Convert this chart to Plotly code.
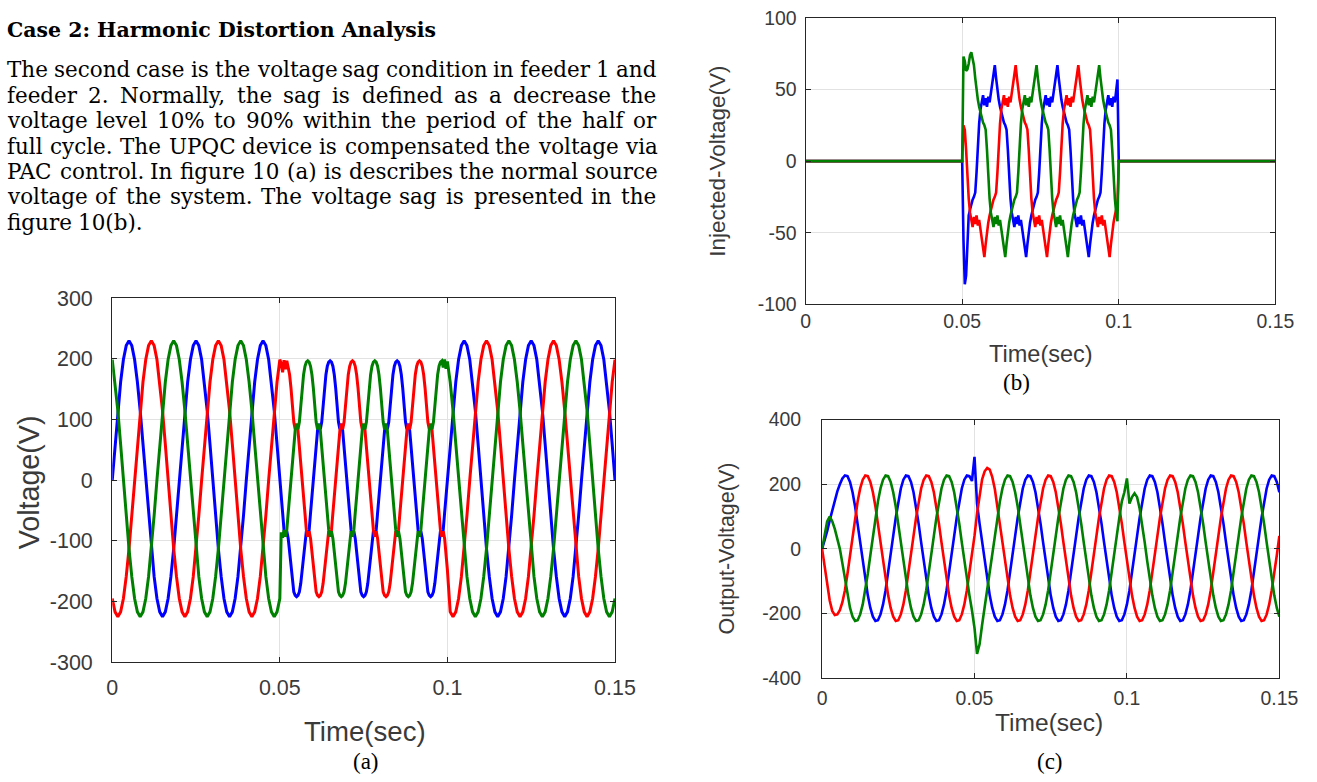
import numpy as np
import plotly.graph_objects as go

W, H = 1317, 782

# ---------------- data ----------------
x_tickvals = [0, 0.05, 0.1, 0.15]
x_ticktext = ["0", "0.05", "0.1", "0.15"]
ya_tickvals = [-300, -200, -100, 0, 100, 200, 300]
ya_ticktext = ["-300", "-200", "-100", "0", "100", "200", "300"]
yb_tickvals = [-100, -50, 0, 50, 100]
yb_ticktext = ["-100", "-50", "0", "50", "100"]
yc_tickvals = [-400, -200, 0, 200, 400]
yc_ticktext = ["-400", "-200", "0", "200", "400"]

# (a) source voltage: 0-0.05 s (61 samples), 0.05-0.1 s sag (120 samples), 0.1-0.15 s (60 samples)
t_a = np.concatenate([np.linspace(0, 0.05, 61), np.linspace(0.05, 0.1, 121)[1:], np.linspace(0.1, 0.15, 61)[1:]])

blue_a_pre = [0, 59, 115, 162, 199, 222, 230, 222, 199, 162, 115, 59, 0, -58, -113, -159, -195, -217, -225, -217, -195, -159, -113, -58,
              0, 59, 115, 162, 199, 222, 230, 222, 199, 162, 115, 59, 0, -58, -113, -159, -195, -217, -225, -217, -195, -159, -113, -58,
              0, 59, 115, 162, 199, 222, 230, 222, 199, 162, 115, 59, 0]
red_a_pre = [-195, -217, -225, -217, -195, -159, -113, -58, 0, 59, 115, 162, 199, 222, 230, 222, 199, 162, 115, 59, 0, -58, -113, -159,
             -195, -217, -225, -217, -195, -159, -113, -58, 0, 59, 115, 162, 199, 222, 230, 222, 199, 162, 115, 59, 0, -58, -113, -159,
             -195, -217, -225, -217, -195, -159, -113, -58, 0, 59, 115, 162, 199]
green_a_pre = [199, 162, 115, 59, 0, -58, -113, -159, -195, -217, -225, -217, -195, -159, -113, -58, 0, 59, 115, 162, 199, 222, 230, 222,
               199, 162, 115, 59, 0, -58, -113, -159, -195, -217, -225, -217, -195, -159, -113, -58, 0, 59, 115, 162, 199, 222, 230, 222,
               199, 162, 115, 59, 0, -58, -113, -159, -195, -217, -225, -217, -195]

blue_a_sag = [-27, -54, -82, -93, -84, -96, -120, -148, -170, -184, -190, -192, -190, -184, -170, -148, -120, -96, -84, -93, -82, -54, -27,
              0, 27, 54, 82, 93, 84, 96, 122, 152, 174, 188, 195, 197, 195, 188, 174, 152, 122, 96, 84, 93, 82, 54, 27,
              0, -27, -54, -82, -93, -84, -96, -120, -148, -170, -184, -190, -192, -190, -184, -170, -148, -120, -96, -84, -93, -82, -54, -27,
              0, 27, 54, 82, 93, 84, 96, 122, 152, 174, 188, 195, 197, 195, 188, 174, 152, 122, 96, 84, 93, 82, 54, 27,
              0, -27, -54, -82, -93, -84, -96, -120, -148, -170, -184, -190, -192, -190, -184, -170, -148, -120, -96, -84, -93, -82, -54, -27,
              0]
red_a_sag = [192, 178, 198, 183, 197, 186, 174, 152, 122, 96, 84, 93, 82, 54, 27,
             0, -27, -54, -82, -93, -84, -96, -120, -148, -170, -184, -190, -192, -190, -184, -170, -148, -120, -96, -84, -93, -82, -54, -27,
             0, 27, 54, 82, 93, 84, 96, 122, 152, 174, 188, 195, 197, 195, 188, 174, 152, 122, 96, 84, 93, 82, 54, 27,
             0, -27, -54, -82, -93, -84, -96, -120, -148, -170, -184, -190, -192, -190, -184, -170, -148, -120, -96, -84, -93, -82, -54, -27,
             0, 27, 54, 82, 93, 84, 96, 122, 152, 174, 188, 195, 197, 195, 188, 174, 152, 122, 96, 84, 93, 82, 54, 27,
             0, -27, -54, -82, -93, -84, -96, -120, -148]
green_a_sag = [-86, -95, -82, -93, -82, -54, -27,
               0, 27, 54, 82, 93, 84, 96, 122, 152, 174, 188, 195, 197, 195, 188, 174, 152, 122, 96, 84, 93, 82, 54, 27,
               0, -27, -54, -82, -93, -84, -96, -120, -148, -170, -184, -190, -192, -190, -184, -170, -148, -120, -96, -84, -93, -82, -54, -27,
               0, 27, 54, 82, 93, 84, 96, 122, 152, 174, 188, 195, 197, 195, 188, 174, 152, 122, 96, 84, 93, 82, 54, 27,
               0, -27, -54, -82, -93, -84, -96, -120, -148, -170, -184, -190, -192, -190, -184, -170, -148, -120, -96, -84, -93, -82, -54, -27,
               0, 27, 54, 82, 93, 84, 96, 122, 152, 174, 188, 195, 197, 186, 199, 184, 196]

blue_a_post = [59, 115, 162, 199, 222, 230, 222, 199, 162, 115, 59, 0, -58, -113, -159, -195, -217, -225, -217, -195, -159, -113, -58,
               0, 59, 115, 162, 199, 222, 230, 222, 199, 162, 115, 59, 0, -58, -113, -159, -195, -217, -225, -217, -195, -159, -113, -58,
               0, 59, 115, 162, 199, 222, 230, 222, 199, 162, 115, 59, 0]
red_a_post = [-217, -225, -217, -195, -159, -113, -58, 0, 59, 115, 162, 199, 222, 230, 222, 199, 162, 115, 59, 0, -58, -113, -159,
              -195, -217, -225, -217, -195, -159, -113, -58, 0, 59, 115, 162, 199, 222, 230, 222, 199, 162, 115, 59, 0, -58, -113, -159,
              -195, -217, -225, -217, -195, -159, -113, -58, 0, 59, 115, 162, 199]
green_a_post = [162, 115, 59, 0, -58, -113, -159, -195, -217, -225, -217, -195, -159, -113, -58, 0, 59, 115, 162, 199, 222, 230, 222,
                199, 162, 115, 59, 0, -58, -113, -159, -195, -217, -225, -217, -195, -159, -113, -58, 0, 59, 115, 162, 199, 222, 230, 222,
                199, 162, 115, 59, 0, -58, -113, -159, -195, -217, -225, -217, -195]

blue_a = blue_a_pre + blue_a_sag + blue_a_post
red_a = red_a_pre + red_a_sag + red_a_post
green_a = green_a_pre + green_a_sag + green_a_post

# (b) injected voltage: zero outside the sag, 119 samples inside
t_b = np.concatenate([[0.0, 0.05], np.linspace(0.05, 0.1, 121)[1:120], [0.1, 0.15]])
blue_b_sag = [-55, -86, -80, -62, -38, -34, -30, -27, -25, -22, -8, 12, 26, 36, 42, 46, 39, 44, 38, 45, 41, 48, 57, 64,
              67, 58, 49, 43, 38, 34, 30, 27, 25, 22, 8, -12, -26, -36, -42, -46, -39, -44, -38, -45, -41, -48, -57, -64,
              -67, -58, -49, -43, -38, -34, -30, -27, -25, -22, -8, 12, 26, 36, 42, 46, 39, 44, 38, 45, 41, 48, 57, 64,
              67, 58, 49, 43, 38, 34, 30, 27, 25, 22, 8, -12, -26, -36, -42, -46, -39, -44, -38, -45, -41, -48, -57, -64,
              -67, -58, -49, -43, -38, -34, -30, -27, -25, -22, -8, 12, 26, 36, 42, 46, 39, 44, 38, 45, 41, 48, 57]
red_b_sag = [25, 22, 8, -12, -26, -36, -42, -46, -39, -44, -38, -45, -41, -48, -57, -64,
             -67, -58, -49, -43, -38, -34, -30, -27, -25, -22, -8, 12, 26, 36, 42, 46, 39, 44, 38, 45, 41, 48, 57, 64,
             67, 58, 49, 43, 38, 34, 30, 27, 25, 22, 8, -12, -26, -36, -42, -46, -39, -44, -38, -45, -41, -48, -57, -64,
             -67, -58, -49, -43, -38, -34, -30, -27, -25, -22, -8, 12, 26, 36, 42, 46, 39, 44, 38, 45, 41, 48, 57, 64,
             67, 58, 49, 43, 38, 34, 30, 27, 25, 22, 8, -12, -26, -36, -42, -46, -39, -44, -38, -45, -41, -48, -57, -64,
             -67, -58, -49, -43, -38, -34, -30]
green_b_sag = [73, 70, 63, 64, 68, 74, 76, 72,
               67, 58, 49, 43, 38, 34, 30, 27, 25, 22, 8, -12, -26, -36, -42, -46, -39, -44, -38, -45, -41, -48, -57, -64,
               -67, -58, -49, -43, -38, -34, -30, -27, -25, -22, -8, 12, 26, 36, 42, 46, 39, 44, 38, 45, 41, 48, 57, 64,
               67, 58, 49, 43, 38, 34, 30, 27, 25, 22, 8, -12, -26, -36, -42, -46, -39, -44, -38, -45, -41, -48, -57, -64,
               -67, -58, -49, -43, -38, -34, -30, -27, -25, -22, -8, 12, 26, 36, 42, 46, 39, 44, 38, 45, 41, 48, 57, 64,
               67, 58, 49, 43, 38, 34, 30, 27, 25, 22, 8, -12, -26, -36, -42]
blue_b = [0, 0] + blue_b_sag + [0, 0]
red_b = [0, 0] + red_b_sag + [0, 0]
green_b = [0, 0] + green_b_sag + [0, 0]

# (c) output voltage, 181 samples over 0-0.15 s
t_c = np.linspace(0, 0.15, 181)
blue_c = [0, 25, 55, 88, 120, 150, 178, 200, 218, 227, 225, 207, 175, 131, 78, 20, -39, -95, -144, -183, -210, -223, -221, -203,
          -172, -128, -77, -20, 40, 96, 147, 187, 214, 227, 225, 207, 175, 131, 78, 20, -39, -95, -144, -183, -210, -223, -221, -203,
          -172, -128, -77, -20, 40, 96, 147, 187, 214, 227, 225, 210, 285, 140, 78, 20, -39, -95, -144, -183, -210, -223, -221, -203,
          -172, -128, -77, -20, 40, 96, 147, 187, 214, 227, 225, 207, 175, 131, 78, 20, -39, -95, -144, -183, -210, -223, -221, -203,
          -172, -128, -77, -20, 40, 96, 147, 187, 214, 227, 225, 207, 175, 131, 78, 20, -39, -95, -144, -183, -210, -223, -221, -203,
          -172, -128, -77, -20, 40, 96, 147, 187, 214, 227, 225, 207, 175, 131, 78, 20, -39, -95, -144, -183, -210, -223, -221, -203,
          -172, -128, -77, -20, 40, 96, 147, 187, 214, 227, 225, 207, 175, 131, 78, 20, -39, -95, -144, -183, -210, -223, -221, -203,
          -172, -128, -77, -20, 40, 96, 147, 187, 214, 227, 225, 207, 175]
red_c = [0, -50, -110, -160, -192, -205, -203, -190, -165, -128, -77, -20, 40, 96, 147, 187, 214, 227, 225, 207, 175, 131, 78, 20,
         -39, -95, -144, -183, -210, -223, -221, -203, -172, -128, -77, -20, 40, 96, 147, 187, 214, 227, 225, 207, 175, 131, 78, 20,
         -39, -95, -144, -183, -210, -223, -221, -203, -172, -128, -77, -20, 40, 110, 170, 215, 240, 250, 245, 222, 185, 131, 78, 20,
         -39, -95, -144, -183, -210, -223, -221, -203, -172, -128, -77, -20, 40, 96, 147, 187, 214, 227, 225, 207, 175, 131, 78, 20,
         -39, -95, -144, -183, -210, -223, -221, -203, -172, -128, -77, -20, 40, 96, 147, 187, 214, 227, 225, 207, 175, 131, 78, 20,
         -39, -95, -144, -183, -210, -223, -221, -203, -172, -128, -77, -20, 40, 96, 147, 187, 214, 227, 225, 207, 175, 131, 78, 20,
         -39, -95, -144, -183, -210, -223, -221, -203, -172, -128, -77, -20, 40, 96, 147, 187, 214, 227, 225, 207, 175, 131, 78, 20,
         -39, -95, -144, -183, -210, -223, -221, -203, -172, -128, -77, -20, 40]
green_c = [0, 45, 85, 100, 85, 62, 35, 0, -45, -95, -144, -183, -210, -223, -221, -203, -172, -128, -77, -20, 40, 96, 147, 187,
           214, 227, 225, 207, 175, 131, 78, 20, -39, -95, -144, -183, -210, -223, -221, -203, -172, -128, -77, -20, 40, 96, 147, 187,
           214, 227, 225, 207, 175, 131, 78, 20, -39, -95, -144, -190, -245, -325, -295, -235, -180, -128, -77, -20, 40, 96, 147, 187,
           214, 227, 225, 207, 175, 131, 78, 20, -39, -95, -144, -183, -210, -223, -221, -203, -172, -128, -77, -20, 40, 96, 147, 187,
           214, 227, 225, 207, 175, 131, 78, 20, -39, -95, -144, -183, -210, -223, -221, -203, -172, -128, -77, -20, 40, 96, 147, 175,
           218, 140, 160, 172, 160, 125, 78, 20, -39, -95, -144, -183, -210, -223, -221, -203, -172, -128, -77, -20, 40, 96, 147, 187,
           214, 227, 225, 207, 175, 131, 78, 20, -39, -95, -144, -183, -210, -223, -221, -203, -172, -128, -77, -20, 40, 96, 147, 187,
           214, 227, 225, 207, 175, 131, 78, 20, -39, -95, -144, -183, -210]

for name, arr, n in [("blue_a", blue_a, len(t_a)), ("red_a", red_a, len(t_a)), ("green_a", green_a, len(t_a)),
                     ("blue_b", blue_b, len(t_b)), ("red_b", red_b, len(t_b)), ("green_b", green_b, len(t_b)),
                     ("blue_c", blue_c, len(t_c)), ("red_c", red_c, len(t_c)), ("green_c", green_c, len(t_c))]:
    assert len(arr) == n, (name, len(arr), n)

heading = "Case 2: Harmonic Distortion Analysis"
para_lines = [
    ("The second case is the voltage sag condition in feeder 1 and", True),
    ("feeder 2. Normally, the sag is defined as a decrease the", True),
    ("voltage level 10% to 90% within the period of the half or", True),
    ("full cycle. The UPQC device is compensated the voltage via", True),
    ("PAC control. In figure 10 (a) is describes the normal source", True),
    ("voltage of the system. The voltage sag is presented in the", True),
    ("figure 10(b).", False),
]

# ---------------- styling ----------------
BLUE, RED, GREEN = "#0000ff", "#ff0000", "#008000"
SANS = "Liberation Sans, Arial, sans-serif"
SERIF = "Liberation Serif, Times New Roman, serif"
WSERIF = "DejaVu Serif, serif"
AXC = "#262626"
TXT = "#3a3a3a"

# the photographed page comes out slightly scaled/offset; positions below are in reference pixels
SX, OX = 0.980, 6.0
SY, OY = 0.975, 9.0
SF = (SX + SY) / 2


def px(x):
    return ((x - OX) / SX) / W


def py(y):
    return 1 - ((y - OY) / SY) / H


def fz(s):
    return s / SF


fig = go.Figure()
panels = [("x", "y", t_a, [blue_a, red_a, green_a], 3.0),
          ("x2", "y2", t_b, [blue_b, red_b, green_b], 2.6),
          ("x3", "y3", t_c, [blue_c, red_c, green_c], 2.6)]
for xa, ya, t, series, lw in panels:
    for col, vals in zip([BLUE, RED, GREEN], series):
        fig.add_trace(go.Scatter(x=t, y=vals, mode="lines", line=dict(color=col, width=lw),
                                 xaxis=xa, yaxis=ya, showlegend=False, hoverinfo="skip"))


def axis(domain, rng, tv, tt, anchor, fs, standoff):
    return dict(domain=domain, range=rng, tickvals=tv, ticktext=tt, anchor=anchor,
                showline=True, linecolor=AXC, linewidth=1.3, mirror="ticks",
                ticks="inside", ticklen=5, tickcolor=AXC, tickwidth=1,
                showgrid=True, gridcolor="#e2e2e2", gridwidth=1, zeroline=False,
                tickfont=dict(family=SANS, size=fz(fs), color=TXT), ticklabelstandoff=standoff)


layout = dict(
    width=W, height=H, margin=dict(l=0, r=0, t=0, b=0),
    paper_bgcolor="white", plot_bgcolor="white", showlegend=False,
    xaxis=axis([px(112.3), px(615.3)], [0, 0.15], x_tickvals, x_ticktext, "y", 21, 6),
    yaxis=axis([py(664), py(298)], [-300, 300], ya_tickvals, ya_ticktext, "x", 21, 14),
    xaxis2=axis([px(806), px(1276)], [0, 0.15], x_tickvals, x_ticktext, "y2", 19, -1),
    yaxis2=axis([py(304), py(16)], [-100, 100], yb_tickvals, yb_ticktext, "x2", 19, 4),
    xaxis3=axis([px(822.5), px(1280)], [0, 0.15], x_tickvals, x_ticktext, "y3", 19, 2),
    yaxis3=axis([py(680), py(420)], [-400, 400], yc_tickvals, yc_ticktext, "x3", 19, 16),
)
fig.update_layout(**layout)

ann = []


def label(x, y, text, size, family=SANS, color=TXT, angle=0, xanchor="center"):
    ann.append(dict(x=px(x), y=py(y), xref="paper", yref="paper", text=text, showarrow=False,
                    font=dict(family=family, size=fz(size), color=color), textangle=angle,
                    xanchor=xanchor, yanchor="middle", borderpad=0))


# axis titles
label(365, 734, "Time(sec)", 27)
label(29, 483, "Voltage(V)", 28, angle=-90)
label(1042, 354, "Time(sec)", 23)
label(717, 160, "Injected-Voltage(V)", 22, angle=-90)
label(1050, 725, "Time(sec)", 24)
label(727, 550, "Output-Voltage(V)", 21, angle=-90)
# captions
label(366, 763, "(a)", 22.5, family=SERIF, color="black")
label(1017, 382, "(b)", 22.5, family=SERIF, color="black")
label(1051, 763, "(c)", 22.5, family=SERIF, color="black")

# heading + justified paragraph (approximate DejaVu Serif advance widths, em/1000)
DVS = {' ': 318, '%': 950, '(': 390, ')': 390, ',': 318, '-': 338, '.': 318, ':': 338,
       'A': 722, 'C': 734, 'D': 802, 'F': 694, 'H': 873, 'I': 395, 'N': 873, 'P': 683, 'Q': 820, 'T': 668, 'U': 842,
       'a': 596, 'b': 640, 'c': 560, 'd': 640, 'e': 592, 'f': 370, 'g': 640, 'h': 644, 'i': 320, 'j': 310, 'k': 600,
       'l': 320, 'm': 948, 'n': 644, 'o': 602, 'p': 640, 'q': 640, 'r': 478, 's': 513, 't': 402, 'u': 644, 'v': 565,
       'w': 856, 'x': 564, 'y': 565, 'z': 523}
FS = 21
LEFT, RIGHT = 6, 655
TEXT_SHIFT = 0


def tw(s):
    return sum(DVS.get(c, 636) for c in s) * FS / 1000.0


label(LEFT, 28 + TEXT_SHIFT, "<b>" + heading + "</b>", 20.0, family=WSERIF, color="black", xanchor="left")
line_y = [68, 94, 119.5, 145, 170.5, 196, 221.5]
for (line, just), yy in zip(para_lines, line_y):
    words = line.split(" ")
    widths = [tw(w) for w in words]
    gap = (RIGHT - LEFT - sum(widths)) / (len(words) - 1) if (just and len(words) > 1) else tw(" ")
    x = LEFT
    for w, wd in zip(words, widths):
        label(x, yy + TEXT_SHIFT, w, FS, family=WSERIF, color="black", xanchor="left")
        x += wd + gap

fig.update_layout(annotations=ann)
fig.write_html("out.html")
